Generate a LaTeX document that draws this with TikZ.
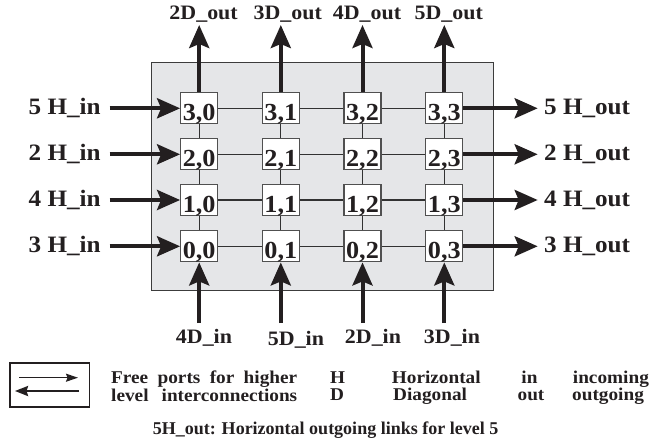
\documentclass[tikz,border=0pt]{standalone}
\usepackage{fontspec}
\setmainfont{Liberation Serif}
\newfontfamily\widefont{Liberation Serif}[FakeStretch=1.07]
\usetikzlibrary{arrows.meta}
\pgfdeclarelayer{background}
\pgfdeclarelayer{edgelayer}
\pgfdeclarelayer{nodelayer}
\pgfsetlayers{background,edgelayer,nodelayer,main}
\definecolor{boardgray}{RGB}{229,230,232}
\definecolor{boardedge}{RGB}{60,60,60}
\definecolor{nodegray}{RGB}{80,80,80}
\definecolor{linkgray}{RGB}{50,50,50}
\definecolor{inkblack}{RGB}{35,31,32}
\tikzstyle{none}=[inner sep=0pt]
\tikzstyle{board}=[rectangle,draw=boardedge,fill=boardgray,line width=1pt,minimum width=341.6pt,minimum height=228pt,inner sep=0pt]
\tikzstyle{router}=[rectangle,fill=white,draw=nodegray,line width=1.2pt,minimum width=37pt,minimum height=31pt,inner sep=0pt,text height=24pt,text depth=0pt,text=inkblack,font=\widefont\bfseries\fontsize{24.5}{24}\selectfont]
\tikzstyle{link}=[draw=linkgray,line width=1.2pt]
\tikzstyle{port}=[-{Stealth[length=23pt,width=20pt,inset=4pt]},draw=inkblack,line width=4pt]
\tikzstyle{hlabel}=[inner sep=0pt,anchor=base west,text=inkblack,font=\widefont\bfseries\fontsize{23.5}{26}\selectfont]
\tikzstyle{dlabel}=[inner sep=0pt,anchor=base,text=inkblack,font=\widefont\bfseries\fontsize{20.5}{24}\selectfont]
\tikzstyle{legendbox}=[rectangle,draw=inkblack,line width=1.3pt,minimum width=79.3pt,minimum height=44pt,inner sep=0pt]
\tikzstyle{thinport}=[-{Stealth[length=12pt,width=8pt,inset=1.5pt]},draw=inkblack,line width=1.3pt]
\tikzstyle{thickport}=[-{Stealth[length=13pt,width=10pt,inset=1.5pt]},draw=inkblack,line width=2.2pt]
\tikzstyle{legendtext}=[inner sep=0pt,anchor=base west,text=inkblack,font=\widefont\bfseries\fontsize{18}{20}\selectfont]
\tikzstyle{note}=[inner sep=0pt,anchor=base,text=inkblack,font=\bfseries\fontsize{18}{20}\selectfont]

\begin{document}
\begin{tikzpicture}[x=10pt,y=10pt]
	\useasboundingbox (0,0) rectangle (65.6,-44.2);
	\begin{pgfonlayer}{background}
		\node [style=board] (48) at (32.25, -17.60) {};
	\end{pgfonlayer}
	\begin{pgfonlayer}{nodelayer}
		\node [style=router] (0) at (19.92, -10.83) {3,0};
		\node [style=router] (1) at (28.08, -10.83) {3,1};
		\node [style=router] (2) at (36.25, -10.83) {3,2};
		\node [style=router] (3) at (44.43, -10.83) {3,3};
		\node [style=router] (4) at (19.92, -15.43) {2,0};
		\node [style=router] (5) at (28.08, -15.43) {2,1};
		\node [style=router] (6) at (36.25, -15.43) {2,2};
		\node [style=router] (7) at (44.43, -15.43) {2,3};
		\node [style=router] (8) at (19.92, -20.00) {1,0};
		\node [style=router] (9) at (28.08, -20.00) {1,1};
		\node [style=router] (10) at (36.25, -20.00) {1,2};
		\node [style=router] (11) at (44.43, -20.00) {1,3};
		\node [style=router] (12) at (19.92, -24.63) {0,0};
		\node [style=router] (13) at (28.08, -24.63) {0,1};
		\node [style=router] (14) at (36.25, -24.63) {0,2};
		\node [style=router] (15) at (44.43, -24.63) {0,3};
		\node [style=none] (16) at (19.92, -2.50) {};
		\node [style=none] (17) at (28.08, -2.50) {};
		\node [style=none] (18) at (36.25, -2.50) {};
		\node [style=none] (19) at (44.43, -2.50) {};
		\node [style=none] (20) at (19.92, -32.30) {};
		\node [style=none] (21) at (28.08, -32.30) {};
		\node [style=none] (22) at (36.25, -32.30) {};
		\node [style=none] (23) at (44.43, -32.30) {};
		\node [style=none] (24) at (10.96, -10.83) {};
		\node [style=none] (25) at (10.96, -15.43) {};
		\node [style=none] (26) at (10.96, -20.00) {};
		\node [style=none] (27) at (10.96, -24.63) {};
		\node [style=none] (28) at (53.77, -10.83) {};
		\node [style=none] (29) at (53.77, -15.43) {};
		\node [style=none] (30) at (53.77, -20.00) {};
		\node [style=none] (31) at (53.77, -24.63) {};
		\node [style=dlabel] (32) at (20.36, -1.90) {2D\_out};
		\node [style=dlabel] (33) at (28.77, -1.90) {3D\_out};
		\node [style=dlabel] (34) at (36.70, -1.90) {4D\_out};
		\node [style=dlabel] (35) at (44.87, -1.90) {5D\_out};
		\node [style=dlabel] (36) at (20.40, -34.35) {4D\_in};
		\node [style=dlabel] (37) at (29.60, -34.55) {5D\_in};
		\node [style=dlabel] (38) at (37.30, -34.35) {2D\_in};
		\node [style=dlabel] (39) at (45.20, -34.35) {3D\_in};
		\node [style=hlabel] (40) at (2.85, -11.43) {5 H\_in};
		\node [style=hlabel] (41) at (2.85, -16.03) {2 H\_in};
		\node [style=hlabel] (42) at (2.85, -20.60) {4 H\_in};
		\node [style=hlabel] (43) at (2.85, -25.23) {3 H\_in};
		\node [style=hlabel] (44) at (54.40, -11.43) {5 H\_out};
		\node [style=hlabel] (45) at (54.40, -16.03) {2 H\_out};
		\node [style=hlabel] (46) at (54.40, -20.60) {4 H\_out};
		\node [style=hlabel] (47) at (54.40, -25.23) {3 H\_out};
		\node [style=legendbox] (49) at (4.965, -38.50) {};
		\node [style=none] (50) at (1.90, -37.77) {};
		\node [style=none] (51) at (7.80, -37.77) {};
		\node [style=none] (52) at (7.90, -39.10) {};
		\node [style=none] (53) at (1.50, -39.10) {};
		\node [style=legendtext] (54) at (11.10, -38.35) {\makebox[186pt][s]{Free ports for higher}};
		\node [style=legendtext] (55) at (11.10, -40.10) {\makebox[186pt][s]{level interconnections}};
		\node [style=legendtext] (56) at (33.00, -38.35) {H};
		\node [style=legendtext] (57) at (33.00, -40.00) {D};
		\node [style=legendtext] (58) at (39.17, -38.35) {Horizontal};
		\node [style=legendtext] (59) at (39.30, -40.00) {Diagonal};
		\node [style=legendtext,anchor=base] (60) at (52.95, -38.35) {in};
		\node [style=legendtext,anchor=base] (61) at (53.10, -40.00) {out};
		\node [style=legendtext] (62) at (57.27, -38.35) {incoming};
		\node [style=legendtext] (63) at (57.20, -40.00) {outgoing};
		\node [style=note] (64) at (32.55, -43.40) {5H\_out: Horizontal outgoing links for level 5};
	\end{pgfonlayer}
	\begin{pgfonlayer}{edgelayer}
		\draw [style=link] (0) to (1);
		\draw [style=link] (1) to (2);
		\draw [style=link] (2) to (3);
		\draw [style=link] (4) to (5);
		\draw [style=link] (5) to (6);
		\draw [style=link] (6) to (7);
		\draw [style=link] (8) to (9);
		\draw [style=link] (9) to (10);
		\draw [style=link] (10) to (11);
		\draw [style=link] (12) to (13);
		\draw [style=link] (13) to (14);
		\draw [style=link] (14) to (15);
		\draw [style=link] (0) to (4);
		\draw [style=link] (4) to (8);
		\draw [style=link] (8) to (12);
		\draw [style=link] (1) to (5);
		\draw [style=link] (5) to (9);
		\draw [style=link] (9) to (13);
		\draw [style=link] (2) to (6);
		\draw [style=link] (6) to (10);
		\draw [style=link] (10) to (14);
		\draw [style=link] (3) to (7);
		\draw [style=link] (7) to (11);
		\draw [style=link] (11) to (15);
		\draw [style=port] (0) to (16.center);
		\draw [style=port] (1) to (17.center);
		\draw [style=port] (2) to (18.center);
		\draw [style=port] (3) to (19.center);
		\draw [style=port] (20.center) to (12);
		\draw [style=port] (21.center) to (13);
		\draw [style=port] (22.center) to (14);
		\draw [style=port] (23.center) to (15);
		\draw [style=port] (24.center) to (0);
		\draw [style=port] (25.center) to (4);
		\draw [style=port] (26.center) to (8);
		\draw [style=port] (27.center) to (12);
		\draw [style=port] (3) to (28.center);
		\draw [style=port] (7) to (29.center);
		\draw [style=port] (11) to (30.center);
		\draw [style=port] (15) to (31.center);
		\draw [style=thinport] (50.center) to (51.center);
		\draw [style=thickport] (52.center) to (53.center);
	\end{pgfonlayer}
\end{tikzpicture}
\end{document}
